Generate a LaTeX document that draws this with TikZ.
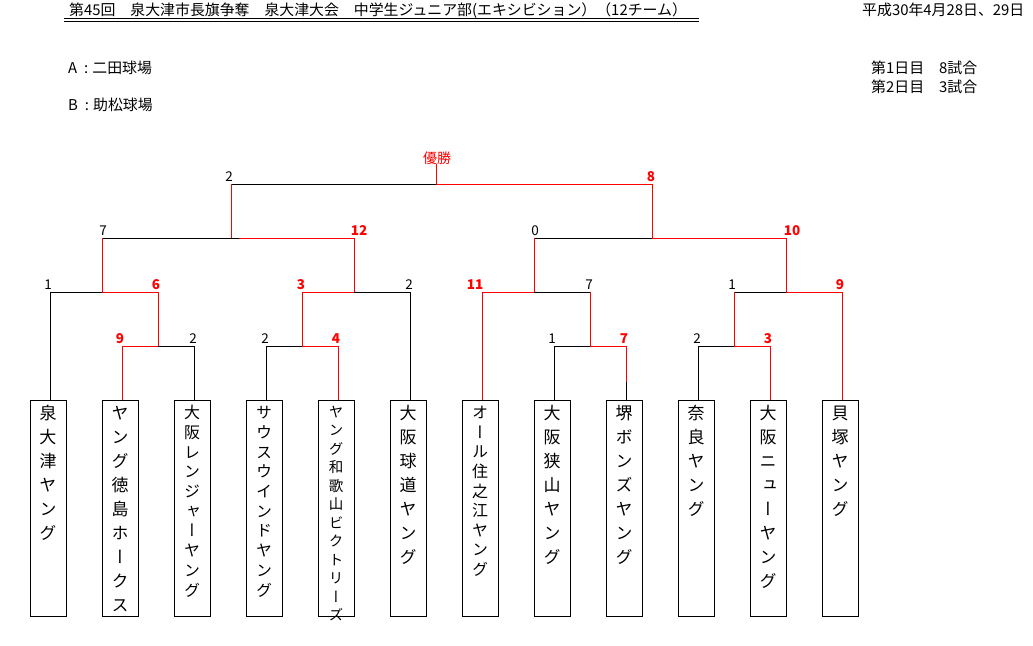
\documentclass[tikz,border=0pt]{standalone}
\usepackage{fontspec}
\newfontfamily\jp{Noto Sans CJK JP}
\newfontfamily\jpv[RawFeature=+vert]{Noto Sans CJK JP}
\definecolor{winred}{RGB}{255,0,0}
\makeatletter
\newcommand\vname[3]{%
  \vbox to 216pt{\kern\dimexpr 4.2pt-(#1-#2)/2\relax
    \fontsize{#2}{#2}\jpv
    \@tfor\vn@c:=#3\do{\hbox to 36pt{\hss\vbox to #1{\vss\hbox{\vrule height .88em depth .12em width 0pt\vn@c}\vss}\hss}}%
    \vss}}
\makeatother
\begin{document}
\begin{tikzpicture}[x=1pt,y=-1pt,
  lose/.style={draw=black,line width=1pt},
  win/.style={draw=winred,line width=1pt},
  team/.style={draw=black,line width=1pt,inner sep=0pt,minimum width=36pt,minimum height=216pt,anchor=north},
  sc/.style={font=\fontsize{13.5}{13.5}\jp,anchor=base,inner sep=0pt},
  wsc/.style={font=\fontsize{13.5}{13.5}\jp\bfseries,text=winred,anchor=base,inner sep=0pt},
  hdr/.style={font=\fontsize{14.9}{14.9}\jp,anchor=base west,inner sep=0pt}]
\useasboundingbox (0,0) rectangle (1033,645);
\fill[white] (0,0) rectangle (1033,645);
% header
\node[hdr] (title) at (69,15.5) {第45回　泉大津市長旗争奪　泉大津大会　中学生ジュニア部(エキシビション）（12チーム）};
\draw[line width=0.8pt] (64,18.7) -- (699,18.7) (64,21) -- (699,21);
\node[hdr] (date) at (862,15.5) {平成30年4月28日、29日};
\node[hdr] (venueA) at (68,73.5) {A\hspace{7pt}:\hspace{4pt}二田球場};
\node[hdr] (venueB) at (68,110) {B\hspace{7pt}:\hspace{4pt}助松球場};
\node[hdr] (day1) at (871,73.5) {第1日目　8試合};
\node[hdr] (day2) at (871,92) {第2日目　3試合};
\node[font=\fontsize{14}{14}\jp,text=winred,anchor=base,inner sep=0pt] (champ) at (437,163) {優勝};
% teams
\node[team] (t1) at (48,400) {\vname{23pt}{17pt}{泉大津ヤング}};
\node[team] (t2) at (120,400) {\vname{23pt}{17pt}{ヤング徳島ホークス}};
\node[team] (t3) at (192,400) {\vname{18.7pt}{16pt}{大阪レンジャーヤング}};
\node[team] (t4) at (264,400) {\vname{18.7pt}{16pt}{サウスウインドヤング}};
\node[team] (t5) at (336,400) {\vname{17.5pt}{14.5pt}{ヤング和歌山ビクトリーズ}};
\node[team] (t6) at (408,400) {\vname{23pt}{17pt}{大阪球道ヤング}};
\node[team] (t7) at (480,400) {\vname{18.6pt}{16pt}{オール住之江ヤング}};
\node[team] (t8) at (552,400) {\vname{23pt}{17pt}{大阪狭山ヤング}};
\node[team] (t9) at (624,400) {\vname{23pt}{17pt}{堺ボンズヤング}};
\node[team] (t10) at (696,400) {\vname{23pt}{17pt}{奈良ヤング}};
\node[team] (t11) at (768,400) {\vname{23pt}{17pt}{大阪ニューヤング}};
\node[team] (t12) at (840,400) {\vname{23pt}{17pt}{貝塚ヤング}};
% junctions
\coordinate (f) at (436,184); \coordinate (fl) at (231,184); \coordinate (fr) at (652,184);
\coordinate (s1) at (231,238); \coordinate (s1a) at (102,238); \coordinate (s1b) at (354,238); \coordinate (s1m) at (239,238);
\coordinate (s2) at (652,238); \coordinate (s2a) at (534,238); \coordinate (s2b) at (786,238);
\coordinate (q1) at (102,292); \coordinate (q1a) at (50,292); \coordinate (q1b) at (158,292);
\coordinate (q2) at (354,292); \coordinate (q2a) at (302,292); \coordinate (q2b) at (410,292);
\coordinate (q3) at (534,292); \coordinate (q3a) at (482,292); \coordinate (q3b) at (590,292);
\coordinate (q4) at (786,292); \coordinate (q4a) at (734,292); \coordinate (q4b) at (842,292);
\coordinate (r1) at (158,346); \coordinate (r1a) at (122,346); \coordinate (r1b) at (194,346);
\coordinate (r2) at (302,346); \coordinate (r2a) at (266,346); \coordinate (r2b) at (338,346);
\coordinate (r3) at (590,346); \coordinate (r3a) at (554,346); \coordinate (r3b) at (626,346);
\coordinate (r3c) at (626,382);
\coordinate (r4) at (734,346); \coordinate (r4a) at (698,346); \coordinate (r4b) at (770,346);
% losing lines
\draw[lose] (fl) -- (f);
\draw[lose] (s1a) -- (s1m);
\draw[lose] (s2a) -- (s2);
\draw[lose] (q1a) -- (q1);
\draw[lose] (q2) -- (q2b);
\draw[lose] (q3) -- (q3b);
\draw[lose] (q4a) -- (q4);
\draw[lose] (q1a) -- (q1a |- t1.north);
\draw[lose] (q2b) -- (q2b |- t6.north);
\draw[lose] (r1) -- (r1b);
\draw[lose] (r2a) -- (r2);
\draw[lose] (r3a) -- (r3);
\draw[lose] (r4a) -- (r4);
\draw[lose] (r1b) -- (r1b |- t3.north);
\draw[lose] (r2a) -- (r2a |- t4.north);
\draw[lose] (r3a) -- (r3a |- t8.north);
\draw[lose] (r3c) -- (r3b |- t9.north);
\draw[lose] (r4a) -- (r4a |- t10.north);
% winning lines
\draw[win] (champ.south -| f) -- (f);
\draw[win] (f) -- (fr);
\draw[win] (fl) -- (s1);
\draw[win] (fr) -- (s2);
\draw[win] (s1m) -- (s1b);
\draw[win] (s2) -- (s2b);
\draw[win] (s1a) -- (q1);
\draw[win] (s1b) -- (q2);
\draw[win] (s2a) -- (q3);
\draw[win] (s2b) -- (q4);
\draw[win] (q1) -- (q1b);
\draw[win] (q2a) -- (q2);
\draw[win] (q3a) -- (q3);
\draw[win] (q4) -- (q4b);
\draw[win] (q1b) -- (r1);
\draw[win] (q2a) -- (r2);
\draw[win] (q3a) -- (q3a |- t7.north);
\draw[win] (q3b) -- (r3);
\draw[win] (q4a) -- (r4);
\draw[win] (q4b) -- (q4b |- t12.north);
\draw[win] (r1a) -- (r1);
\draw[win] (r2) -- (r2b);
\draw[win] (r3) -- (r3b);
\draw[win] (r4) -- (r4b);
\draw[win] (r1a) -- (r1a |- t2.north);
\draw[win] (r2b) -- (r2b |- t5.north);
\draw[win] (r3b) -- (r3c);
\draw[win] (r4b) -- (r4b |- t11.north);
% scores
\node[sc] (k0l) at (229,181) {2};
\node[wsc] (k0r) at (651,181) {8};
\node[sc] (k1a) at (103,235) {7};
\node[wsc] (k1b) at (359,235) {12};
\node[sc] (k1c) at (535,235) {0};
\node[wsc] (k1d) at (792,235) {10};
\node[sc] (k2a) at (48,289) {1};
\node[wsc] (k2b) at (156,289) {6};
\node[wsc] (k2c) at (301,289) {3};
\node[sc] (k2d) at (409,289) {2};
\node[wsc] (k2e) at (475,289) {11};
\node[sc] (k2f) at (589,289) {7};
\node[sc] (k2g) at (732,289) {1};
\node[wsc] (k2h) at (840,289) {9};
\node[wsc] (k3a) at (120,343) {9};
\node[sc] (k3b) at (193,343) {2};
\node[sc] (k3c) at (265,343) {2};
\node[wsc] (k3d) at (336,343) {4};
\node[sc] (k3e) at (552,343) {1};
\node[wsc] (k3f) at (624,343) {7};
\node[sc] (k3g) at (697,343) {2};
\node[wsc] (k3h) at (768,343) {3};
\end{tikzpicture}
\end{document}
